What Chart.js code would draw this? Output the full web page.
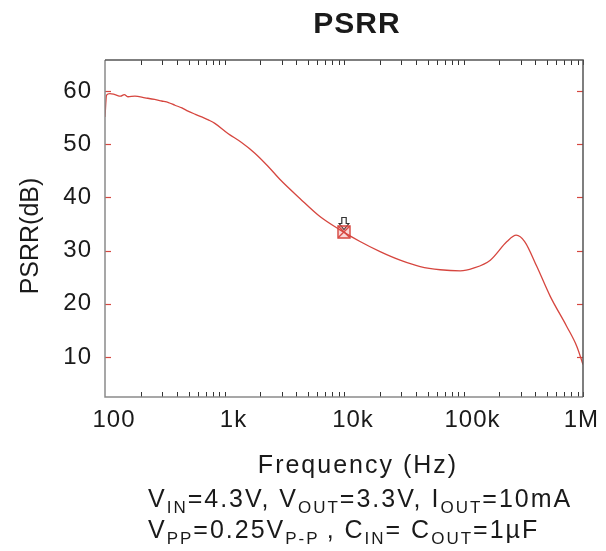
<!DOCTYPE html>
<html><head><meta charset="utf-8">
<script src="https://cdn.jsdelivr.net/npm/chart.js@4.4.1/dist/chart.umd.min.js"></script>
<style>html,body{margin:0;padding:0;background:#fff;}#wrap{width:606px;height:551px;}</style>
</head><body><div id="wrap"><canvas id="c" width="606" height="551"></canvas></div>
<script>
const freqHz = [100, 103, 110, 121, 135, 145, 156, 178, 216, 260, 298, 340, 385, 440, 495, 570, 644, 740, 830, 1068, 1389, 1795, 2300, 2902, 4274, 6289, 9255, 13620, 20040, 29490, 43390, 63860, 93950, 121100, 167600, 231000, 276000, 325000, 411000, 532000, 729000, 888000, 1000000];
const psrrDb = [55.1, 59.2, 59.5, 59.3, 59.0, 59.3, 58.9, 59.0, 58.7, 58.4, 58.1, 57.8, 57.3, 56.8, 56.2, 55.6, 55.1, 54.5, 53.9, 52.0, 50.3, 48.3, 45.9, 43.4, 39.8, 36.4, 33.9, 31.7, 29.8, 28.2, 27.0, 26.4, 26.2, 26.7, 28.2, 31.7, 32.9, 31.7, 27.0, 21.4, 15.8, 12.0, 8.6];
const markerFreq = [10000];
const markerDb = [33.5];
const xMajorTicks = [100, 1000, 10000, 100000, 1000000];
const xTickLabels = ['100', '1k', '10k', '100k', '1M'];
const xMinorSteps = [2, 3, 4, 5, 6, 7, 8, 9, 10];
const yTicks = [10, 20, 30, 40, 50, 60];
const titleText = 'PSRR';
const xTitle = 'Frequency (Hz)';
const yTitle = 'PSRR(dB)';
const noteLine1 = [['V', 0], ['IN', 1], ['=4.3V, V', 0], ['OUT', 1], ['=3.3V, I', 0], ['OUT', 1], ['=10mA', 0]];
const noteLine2 = [['V', 0], ['PP', 1], ['=0.25V', 0], ['P-P', 1], ['\u2009, C', 0], ['IN', 1], ['= C', 0], ['OUT', 1], ['=1µF', 0]];

const RED = '#d6463f';
const FONT = '"Liberation Sans", Arial, sans-serif';

// arrow point style image
const arrowImg = document.createElement('canvas');
arrowImg.width = 14; arrowImg.height = 40;
(function(){
  const g = arrowImg.getContext('2d');
  g.fillStyle = '#fff'; g.strokeStyle = '#333'; g.lineWidth = 1.2;
  g.beginPath();
  g.moveTo(4.8, 5.5); g.lineTo(9.2, 5.5); g.lineTo(9.2, 11.5); g.lineTo(11.8, 11.5);
  g.lineTo(7, 17.5); g.lineTo(2.2, 11.5); g.lineTo(4.8, 11.5); g.closePath();
  g.fill(); g.stroke();
})();

const pts = freqHz.map((f, i) => ({x: f, y: psrrDb[i]}));
const mk = markerFreq.map((f, i) => ({x: f, y: markerDb[i]}));

const decorPlugin = {
  id: 'decor',
  beforeDraw(chart) {
    chart.ctx.letterSpacing = '1px';
  },
  afterDraw(chart) {
    const ctx = chart.ctx, a = chart.chartArea;
    const xs = chart.scales.x, ys = chart.scales.y;
    ctx.save();
    // minor x ticks top & bottom
    ctx.strokeStyle = '#333'; ctx.lineWidth = 1;
    xMajorTicks.slice(0, -1).forEach(d => {
      xMinorSteps.forEach(m => {
        const px = Math.round(xs.getPixelForValue(d * m)) + 0.5;
        ctx.beginPath(); ctx.moveTo(px, a.bottom); ctx.lineTo(px, a.bottom - 5); ctx.stroke();
        ctx.beginPath(); ctx.moveTo(px, a.top); ctx.lineTo(px, a.top + 5); ctx.stroke();
      });
    });
    // red y ticks left & right
    ctx.strokeStyle = RED; ctx.lineWidth = 1.2;
    yTicks.forEach(v => {
      const py = Math.round(ys.getPixelForValue(v)) + 0.5;
      ctx.beginPath(); ctx.moveTo(a.left, py); ctx.lineTo(a.left + 6, py); ctx.stroke();
      ctx.beginPath(); ctx.moveTo(a.right, py); ctx.lineTo(a.right - 6, py); ctx.stroke();
    });
    // frame
    ctx.lineWidth = 1.5;
    ctx.strokeStyle = '#8a8a8a';
    ctx.beginPath(); ctx.moveTo(a.left, a.top); ctx.lineTo(a.left, a.bottom); ctx.lineTo(a.right, a.bottom); ctx.stroke();
    ctx.strokeStyle = '#555';
    ctx.beginPath(); ctx.moveTo(a.left, a.top); ctx.lineTo(a.right, a.top); ctx.lineTo(a.right, a.bottom); ctx.stroke();

    // texts
    ctx.fillStyle = '#1a1a1a';
    ctx.textBaseline = 'alphabetic';
    // x tick labels from the scale
    ctx.letterSpacing = '1px';
    ctx.font = '24px ' + FONT;
    xMajorTicks.forEach((v, i) => {
      const px = xs.getPixelForValue(v);
      const last = i === xMajorTicks.length - 1;
      ctx.textAlign = last ? 'right' : 'center';
      ctx.fillText(xTickLabels[i], last ? px + 16 : px + 9, a.bottom + 30);
    });
    ctx.textAlign = 'center';
    ctx.font = 'bold 30px ' + FONT;
    ctx.fillText(titleText, 357, 33);
    ctx.letterSpacing = '2px';
    ctx.font = '25px ' + FONT;
    ctx.fillText(xTitle, 358, 473);
    // y title
    ctx.save();
    ctx.translate(38, 236); ctx.rotate(-Math.PI / 2);
    ctx.letterSpacing = '0px';
    ctx.font = '25px ' + FONT;
    ctx.fillText(yTitle, 0, 0);
    ctx.restore();
    // notes
    ctx.textAlign = 'left';
    const drawRuns = (runs, x, y) => {
      runs.forEach(([t, sub]) => {
        ctx.font = (sub ? '17px ' : '25px ') + FONT;
        ctx.fillText(t, x, sub ? y + 6 : y);
        x += ctx.measureText(t).width;
      });
    };
    ctx.letterSpacing = '2px';
    drawRuns(noteLine1, 148, 507);
    drawRuns(noteLine2, 148, 538);
    ctx.restore();
  }
};

new Chart(document.getElementById('c'), {
  type: 'line',
  data: {
    datasets: [
      {data: pts, borderColor: RED, borderWidth: 1.3, pointRadius: 0, cubicInterpolationMode: 'monotone', fill: false},
      {data: mk, showLine: false, pointStyle: 'rect', pointRadius: 8.5, borderColor: RED, borderWidth: 1.4, backgroundColor: 'rgba(230,90,90,0.25)'},
      {data: mk, showLine: false, pointStyle: 'crossRot', pointRadius: 8, borderColor: RED, borderWidth: 1.4},
      {data: mk, showLine: false, pointStyle: arrowImg, pointRadius: 6}
    ]
  },
  options: {
    responsive: false,
    animation: false,
    layout: {padding: {left: 0, right: 23, top: 60, bottom: 0}},
    plugins: {legend: {display: false}, tooltip: {enabled: false}, title: {display: false}},
    scales: {
      x: {
        type: 'logarithmic', min: 100, max: 1000000,
        grid: {display: false}, border: {display: false},
        afterBuildTicks: s => { s.ticks = xMajorTicks.map(v => ({value: v})); },
        afterFit: s => { s.height = 154; },
        ticks: {display: false, autoSkip: false}
      },
      y: {
        type: 'linear', min: 2.5, max: 65.8,
        grid: {display: false}, border: {display: false},
        afterBuildTicks: s => { s.ticks = yTicks.map(v => ({value: v})); },
        afterFit: s => { s.width = 105; },
        ticks: {padding: 5, color: '#1a1a1a', font: {family: FONT, size: 24}}
      }
    }
  },
  plugins: [decorPlugin]
});
</script></body></html>
